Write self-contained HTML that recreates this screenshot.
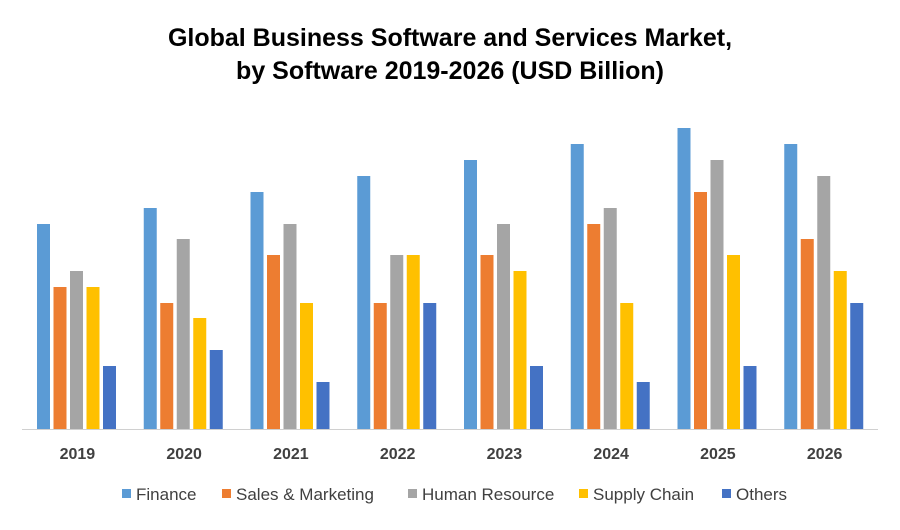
<!DOCTYPE html>
<html><head><meta charset="utf-8"><style>
body{margin:0;background:#fff;}
svg text{font-family:"Liberation Sans",sans-serif;}
</style></head><body>
<svg width="900" height="525" id="c">
<text x="450" y="46" text-anchor="middle" font-size="25" font-weight="bold" fill="#000">Global Business Software and Services Market,</text>
<text x="450" y="79" text-anchor="middle" font-size="25" font-weight="bold" fill="#000">by Software 2019-2026 (USD Billion)</text>
<line x1="22" y1="429.5" x2="878" y2="429.5" stroke="#d0d0d0" stroke-width="1"/>
<g id="bars"></g><g id="xl"></g><g id="lg"></g>
</svg>
<script>
const categories=["2019","2020","2021","2022","2023","2024","2025","2026"];
const seriesNames=["Finance","Sales & Marketing","Human Resource","Supply Chain","Others"];
const finance=[20.5,22.1,23.7,25.3,26.9,28.5,30.1,28.5];
const sales=[14.2,12.6,17.4,12.6,17.4,20.5,23.7,19.0];
const hr=[15.8,19.0,20.5,17.4,20.5,22.1,26.9,25.3];
const supply=[14.2,11.1,12.6,17.4,15.8,12.6,17.4,15.8];
const others=[6.3,7.9,4.7,12.6,6.3,4.7,6.3,12.6];
const colors=["#5b9bd5","#ed7d31","#a5a5a5","#ffc000","#4472c4"];
const series=[finance,sales,hr,supply,others];
const NS="http://www.w3.org/2000/svg";
const x0=24,gw=106.75,base=429,pxPer=10;
const y=v=>base-v*pxPer;
const bx=(g,s)=>x0+g*gw+13+s*16.5;
const bars=document.getElementById('bars');
series.forEach((arr,s)=>arr.forEach((v,g)=>{
 const r=document.createElementNS(NS,'rect');
 r.setAttribute('x',bx(g,s));r.setAttribute('y',y(v));
 r.setAttribute('width',13);r.setAttribute('height',base-y(v));
 r.setAttribute('fill',colors[s]);
 
 
 bars.appendChild(r);
}));
const xl=document.getElementById('xl');
categories.forEach((c,g)=>{
 const t=document.createElementNS(NS,'text');
 t.setAttribute('x',x0+g*gw+gw/2);t.setAttribute('y',459);
 t.setAttribute('text-anchor','middle');t.setAttribute('font-size','16');
 t.setAttribute('font-weight','bold');t.setAttribute('fill','#404040');
 t.textContent=c;
 
 
 xl.appendChild(t);
});
const lg=document.getElementById('lg');
const lx=[122,222,408,579,722];
seriesNames.forEach((n,i)=>{
 const r=document.createElementNS(NS,'rect');
 r.setAttribute('x',lx[i]);r.setAttribute('y',489);r.setAttribute('width',9);r.setAttribute('height',9);
 r.setAttribute('fill',colors[i]);
 
 
 lg.appendChild(r);
 const t=document.createElementNS(NS,'text');
 t.setAttribute('x',lx[i]+14);t.setAttribute('y',500);t.setAttribute('font-size','17');t.setAttribute('fill','#404040');
 t.textContent=n;
 
 
 lg.appendChild(t);
});
</script>
</body></html>
